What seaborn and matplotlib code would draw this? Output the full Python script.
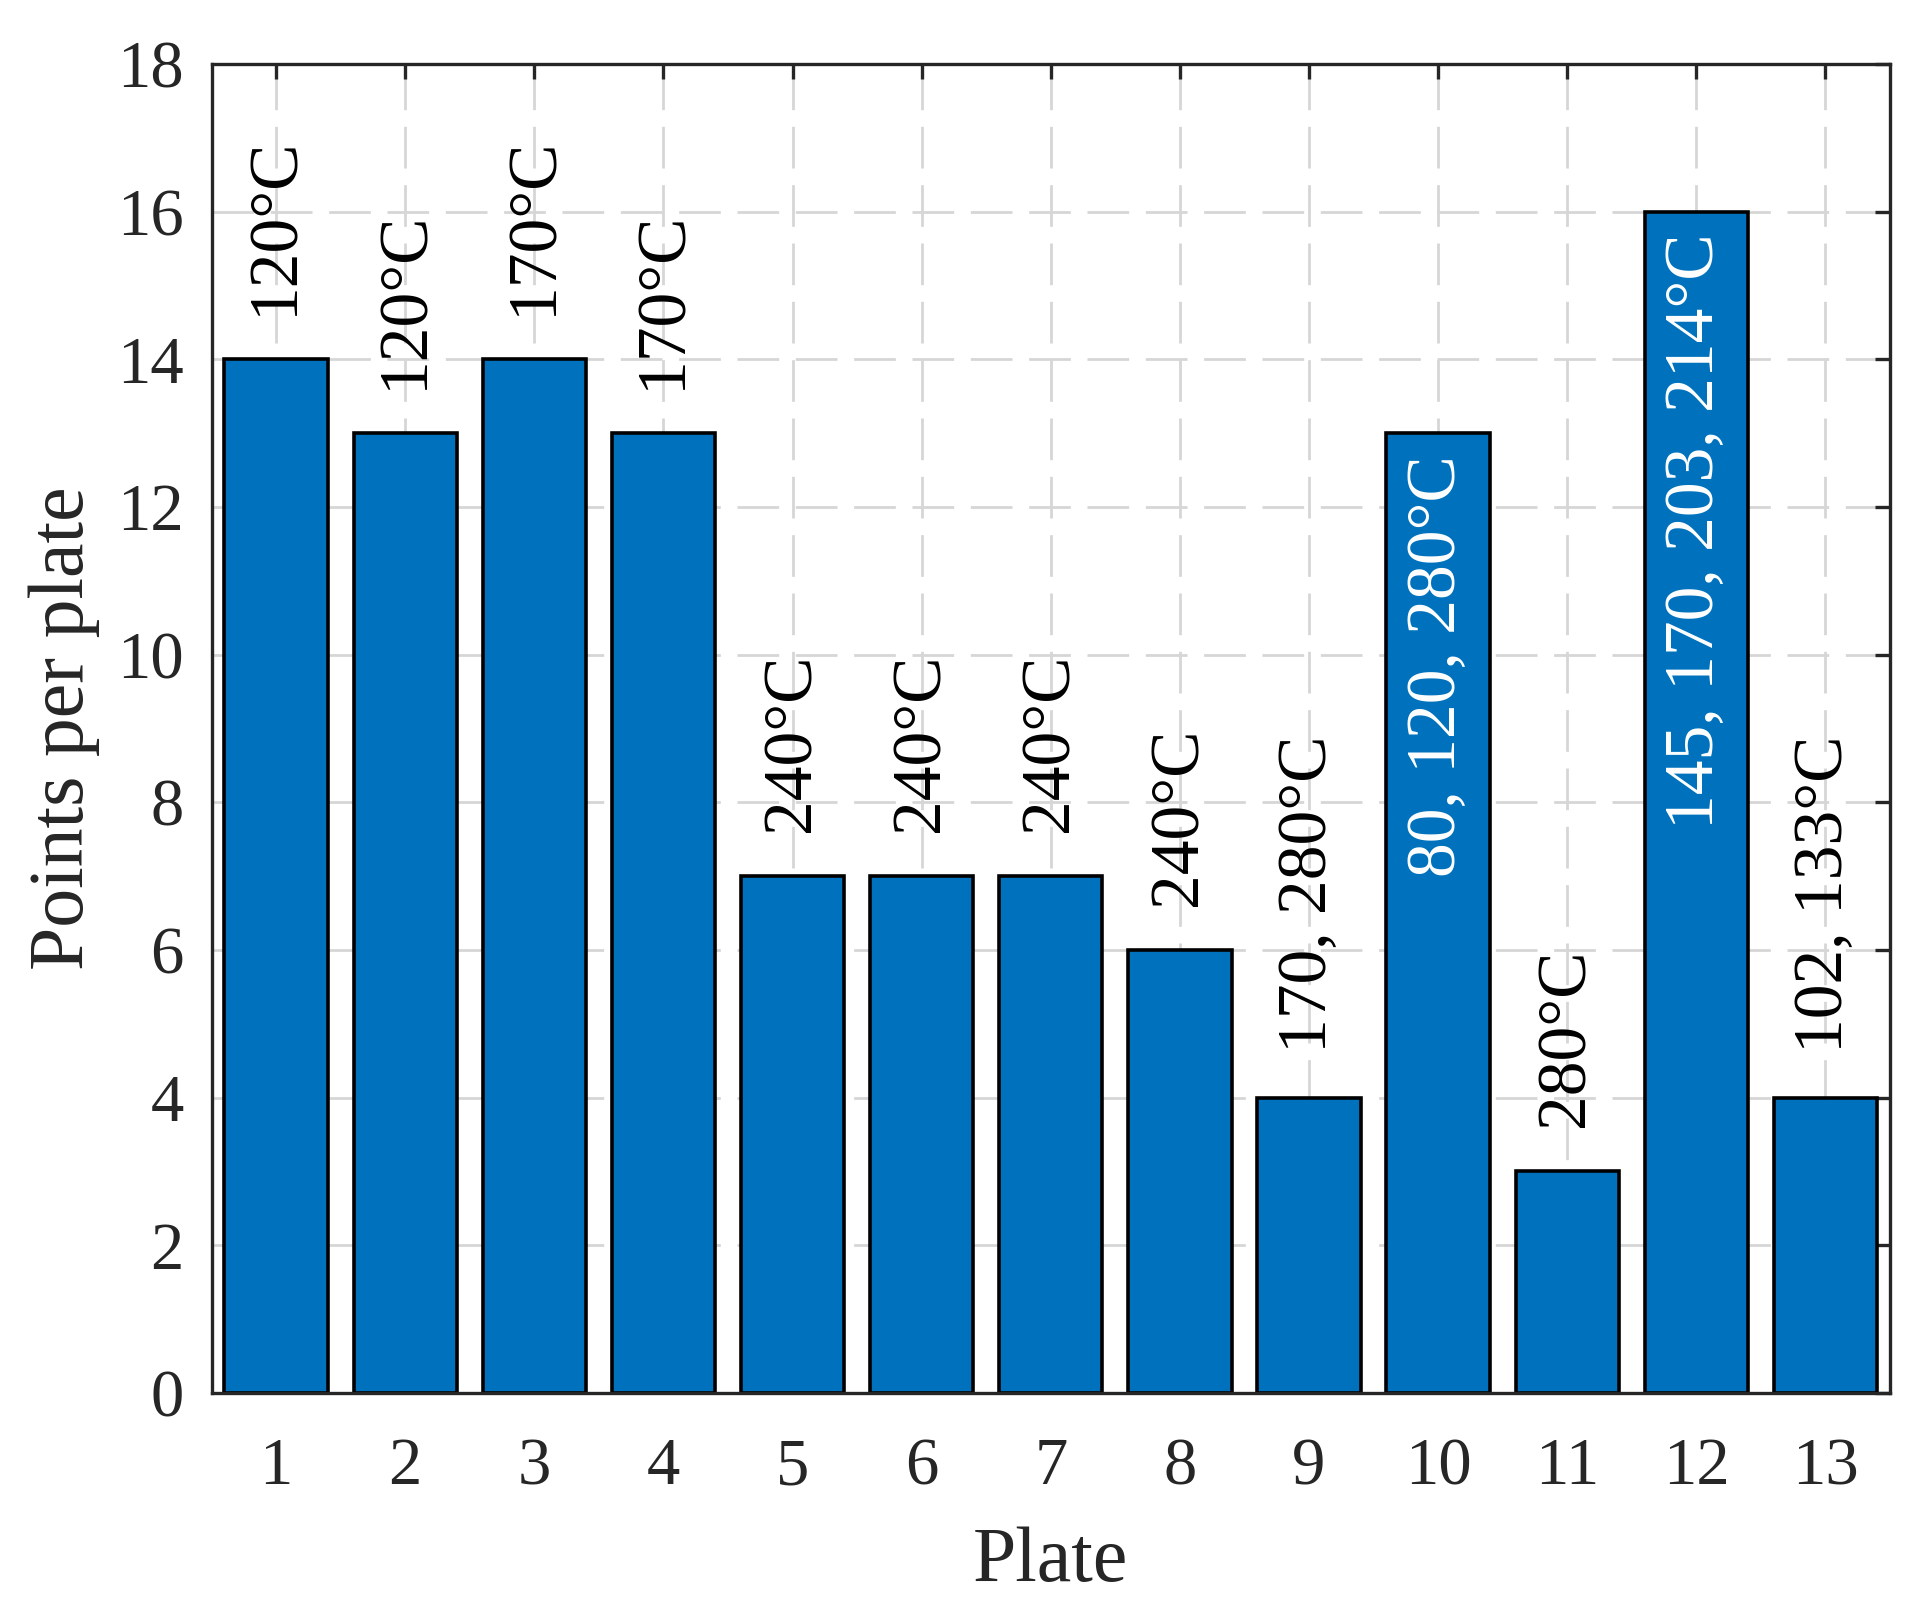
import numpy as np
import pandas as pd
import matplotlib
matplotlib.use('Agg')
import matplotlib.pyplot as plt
import seaborn as sns

# -----------------------------------------------------------------------------
# Data
# -----------------------------------------------------------------------------
plates = [1, 2, 3, 4, 5, 6, 7, 8, 9, 10, 11, 12, 13]
points = [14, 13, 14, 13, 7, 7, 7, 6, 4, 13, 3, 16, 4]
temps = ['120°C', '120°C', '170°C', '170°C', '240°C', '240°C', '240°C',
         '240°C', '170, 280°C', '80, 120, 280°C', '280°C',
         '145, 170, 203, 214°C', '102, 133°C']
inside = [10, 12]   # labels written inside the bar (white)
yticks = [0, 2, 4, 6, 8, 10, 12, 14, 16, 18]

sns.set_theme(style='white')
plt.rcParams['font.family'] = ['Liberation Serif', 'DejaVu Serif']
plt.rcParams['mathtext.fontset'] = 'stix'

df = pd.DataFrame(dict(plate=plates, points=points))

fig = plt.figure(figsize=(9.64, 8.095), dpi=200)
ax = fig.add_axes([0.1097, 0.1396, 0.9803 - 0.1097, 0.9605 - 0.1396])

ax.set_axisbelow(True)
ax.grid(True, linestyle=(0, (15, 6)), color='#d6d6d6', linewidth=1.0)

sns.barplot(data=df, x='plate', y='points', native_scale=True, width=0.8,
            color='#0072BD', saturation=1, edgecolor='black', linewidth=1.3,
            ax=ax, zorder=2)

for p, v, t in zip(plates, points, temps):
    if p in inside:
        ax.text(p, v - 0.3, t, rotation=90, ha='center', va='top',
                color='white', fontsize=25, zorder=3)
    else:
        ax.text(p, v + 0.6, t, rotation=90, ha='center', va='bottom',
                color='black', fontsize=25, zorder=3)

ax.set_xlim(0.5, 13.5)
ax.set_ylim(0, 18)
ax.set_xticks(plates)
ax.set_xticklabels([str(p) for p in plates])
ax.set_yticks(yticks)

ax.tick_params(direction='in', length=5.5, width=1.2, colors='#262626',
               labelsize=24, top=True, right=True)
ax.tick_params(axis='x', pad=16)
ax.tick_params(axis='y', pad=10)
for s in ax.spines.values():
    s.set_color('#262626')
    s.set_linewidth(1.2)
    s.set_visible(True)

ax.set_xlabel('Plate', fontsize=28, color='#262626', labelpad=10)
ax.set_ylabel('Points per plate', fontsize=28, color='#262626', labelpad=6)

fig.savefig('out.png', dpi=200)
